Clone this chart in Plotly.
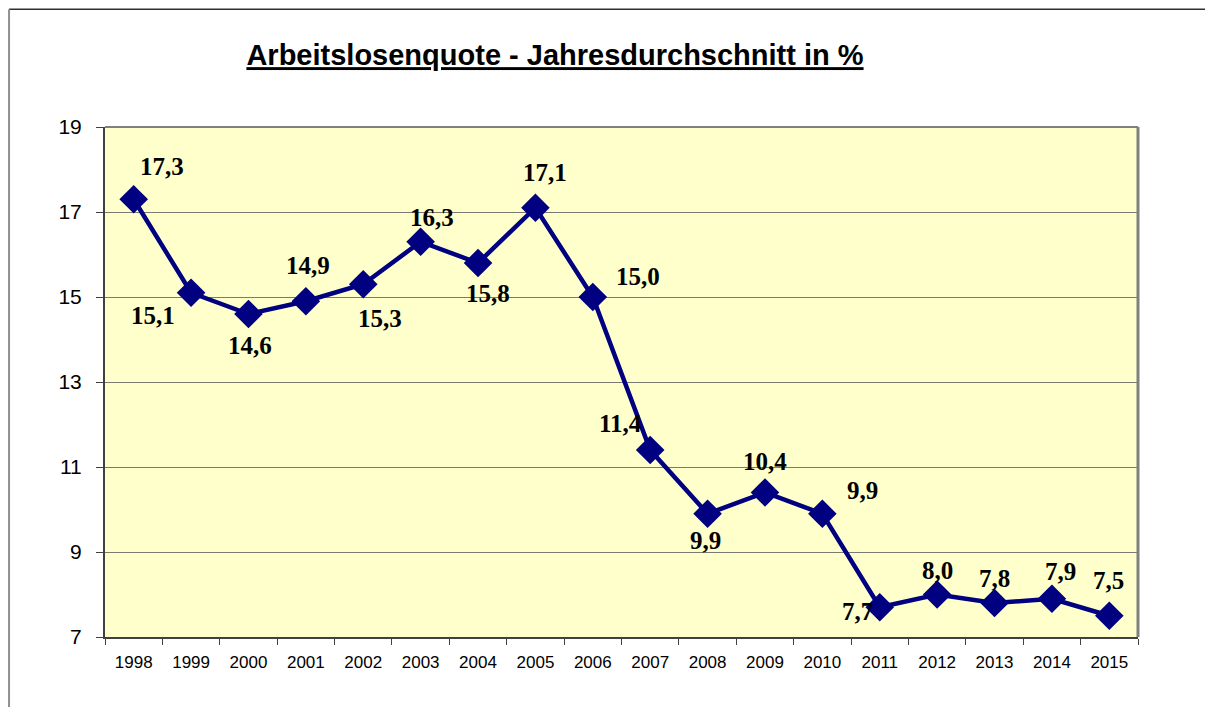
import plotly.graph_objects as go

years = [str(y) for y in range(1998, 2016)]
values = [17.3, 15.1, 14.6, 14.9, 15.3, 16.3, 15.8, 17.1, 15.0, 11.4, 9.9, 10.4, 9.9, 7.7, 8.0, 7.8, 7.9, 7.5]
labels = ["17,3", "15,1", "14,6", "14,9", "15,3", "16,3", "15,8", "17,1", "15,0", "11,4",
          "9,9", "10,4", "9,9", "7,7", "8,0", "7,8", "7,9", "7,5"]
y_ticks = [7, 9, 11, 13, 15, 17, 19]

# label offsets (pixels) relative to each point
label_dx = [28, -38, 2, 2, 17, 11, 10, 10, 45, -30, -2, 0, 40, -22, 0, 0, 9, -1]
label_dy = [33, -23, -31, 36, -34, 24, -30, 35, 21, 27, -27, 31, 23, -4, 24, 25, 27, 35]

# page has an 8px body margin; figure is drawn in page coords minus 8
OFF = 8
W, H = 1213 - OFF, 707 - OFF
L, R, T, B = 104.5 - OFF, 1138 - OFF, 127 - OFF, 637 - OFF

fig = go.Figure()
fig.add_trace(go.Scatter(
    x=years, y=values, mode="lines+markers",
    line=dict(color="#000080", width=4.5),
    marker=dict(symbol="diamond", size=22, color="#000080"),
    hoverinfo="skip", showlegend=False,
))

for i, (yv, t, dx, dy) in enumerate(zip(values, labels, label_dx, label_dy)):
    fig.add_annotation(x=i, y=yv, xref="x", yref="y", text=f"<b>{t}</b>", showarrow=False,
                       xshift=dx, yshift=dy,
                       font=dict(family="Liberation Serif, Times New Roman, serif", size=25, color="black"))

fig.update_layout(
    width=W, height=H,
    margin=dict(l=L, r=W - R, t=T, b=H - B, pad=0),
    paper_bgcolor="white", plot_bgcolor="#FFFFCC",
    title=dict(text="<b><u>Arbeitslosenquote - Jahresdurchschnitt in %</u></b>",
               x=(555 - OFF) / W, xanchor="center", y=1 - (55 - OFF) / H, yanchor="middle",
               font=dict(family="Liberation Sans, Arial, sans-serif", size=29, color="black")),
    xaxis=dict(type="category", tickson="boundaries", ticks="outside", ticklen=6,
               tickcolor="#404040", showgrid=False, showline=True, linecolor="#404040", linewidth=2,
               tickfont=dict(family="Liberation Sans, Arial, sans-serif", size=17, color="black"),
               ticklabelstandoff=9, range=[-0.5, 17.5], fixedrange=True),
    yaxis=dict(range=[7, 19], tickvals=y_ticks, ticks="outside", ticklen=7, tickcolor="#404040",
               showgrid=True, gridcolor="#7a7a70", gridwidth=1,
               showline=True, linecolor="#404040", linewidth=2, zeroline=False,
               tickfont=dict(family="Liberation Sans, Arial, sans-serif", size=21, color="black"),
               ticklabelstandoff=10, fixedrange=True),
)

# plot area top/right border (gray, shadow-like)
fig.add_shape(type="line", xref="paper", yref="paper", x0=0, x1=1, y0=1, y1=1,
              line=dict(color="#808080", width=2))
fig.add_shape(type="line", xref="paper", yref="paper", x0=1, x1=1, y0=0, y1=1,
              line=dict(color="#808080", width=3))

# outer chart frame
def px_x(p):
    return (p - L) / (R - L)

def px_y(p):
    return (B - p) / (B - T)

fig.add_shape(type="line", xref="paper", yref="paper", x0=px_x(0.5), x1=px_x(W), y0=px_y(1.2), y1=px_y(1.2),
              line=dict(color="#303030", width=1.5))
fig.add_shape(type="line", xref="paper", yref="paper", x0=px_x(0.5), x1=px_x(0.5), y0=px_y(1.2), y1=px_y(H),
              line=dict(color="#909090", width=2))

fig.write_html("out.html")
